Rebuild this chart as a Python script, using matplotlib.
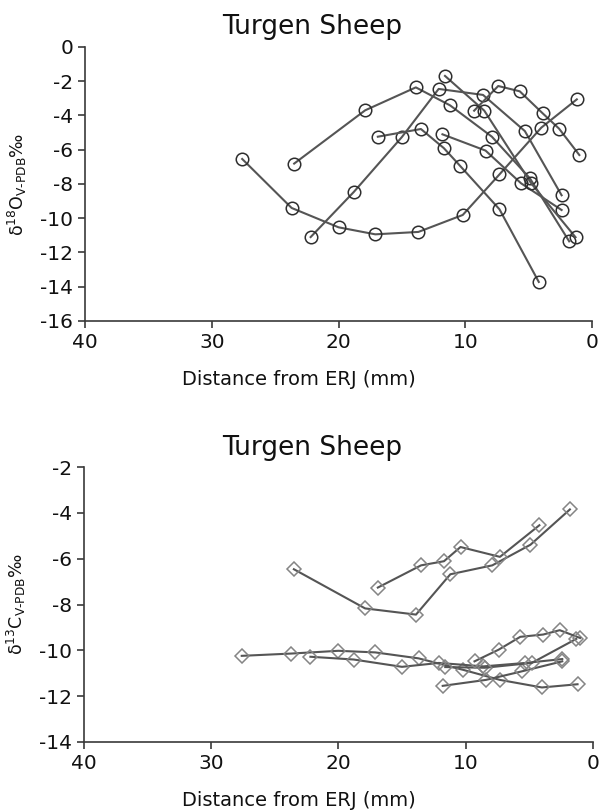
import matplotlib
matplotlib.use("Agg")
import matplotlib.pyplot as plt

# distance from ERJ (mm), d18O and d13C per sheep
SHEEP_A_DIST = [27.6, 23.7, 20.0, 17.1, 13.7, 10.2, 7.3, 4.0, 1.2]
SHEEP_A_O18 = [-6.54, -9.40, -10.53, -10.94, -10.80, -9.81, -7.44, -4.71, -3.06]
SHEEP_A_C13 = [-10.24, -10.14, -10.02, -10.09, -10.35, -10.85, -11.29, -11.62, -11.48]

SHEEP_B_DIST = [23.5, 17.9, 13.9, 11.2, 7.9, 4.9, 1.8]
SHEEP_B_O18 = [-6.81, -3.70, -2.36, -3.41, -5.24, -7.67, -11.35]
SHEEP_B_C13 = [-6.46, -8.17, -8.44, -6.68, -6.29, -5.39, -3.85]

SHEEP_C_DIST = [22.2, 18.8, 15.0, 12.1, 8.6, 5.3, 2.4]
SHEEP_C_O18 = [-11.10, -8.47, -5.26, -2.45, -2.80, -4.91, -8.66]
SHEEP_C_C13 = [-10.28, -10.40, -10.72, -10.55, -10.70, -10.55, -10.38]

SHEEP_D_DIST = [16.9, 13.5, 11.7, 10.4, 7.3, 4.2]
SHEEP_D_O18 = [-5.24, -4.79, -5.90, -6.95, -9.48, -13.72]
SHEEP_D_C13 = [-7.26, -6.29, -6.11, -5.49, -5.92, -4.54]

SHEEP_E_DIST = [11.8, 8.4, 5.6, 2.4]
SHEEP_E_O18 = [-5.10, -6.05, -7.96, -9.52]
SHEEP_E_C13 = [-11.55, -11.29, -10.92, -10.48]

SHEEP_F_DIST = [11.6, 8.5, 4.8, 1.3]
SHEEP_F_O18 = [-1.69, -3.72, -7.96, -11.11]
SHEEP_F_C13 = [-10.73, -10.76, -10.55, -9.50]

SHEEP_G_DIST = [9.3, 7.4, 5.7, 3.9, 2.6, 1.0]
SHEEP_G_O18 = [-3.72, -2.28, -2.59, -3.87, -4.77, -6.31]
SHEEP_G_C13 = [-10.48, -9.97, -9.41, -9.31, -9.12, -9.46]

DISTANCES = [SHEEP_A_DIST, SHEEP_B_DIST, SHEEP_C_DIST, SHEEP_D_DIST,
             SHEEP_E_DIST, SHEEP_F_DIST, SHEEP_G_DIST]
O18_SERIES = [SHEEP_A_O18, SHEEP_B_O18, SHEEP_C_O18, SHEEP_D_O18,
              SHEEP_E_O18, SHEEP_F_O18, SHEEP_G_O18]
C13_SERIES = [SHEEP_A_C13, SHEEP_B_C13, SHEEP_C_C13, SHEEP_D_C13,
              SHEEP_E_C13, SHEEP_F_C13, SHEEP_G_C13]

X_TICKS = [40, 30, 20, 10, 0]
O18_TICKS = list(range(-16, 1, 2))
C13_TICKS = list(range(-14, -1, 2))

LINE_INK = "#555555"
CIRCLE_INK = "#2e2e2e"
DIAMOND_INK = "#858585"
AXIS_INK = "#3a3a3a"
TEXT_INK = "#111111"

plt.rcParams["font.family"] = ["DejaVu Sans"]
plt.rcParams["mathtext.fontset"] = "dejavusans"
plt.rcParams["axes.unicode_minus"] = False


def style_axes(ax, yticks, ylabel):
    ax.set_xlim(40, 0)
    ax.set_xticks(X_TICKS)
    ax.set_ylim(yticks[0], yticks[-1])
    ax.set_yticks(yticks)
    for spine in ("top", "right"):
        ax.spines[spine].set_visible(False)
    for spine in ("left", "bottom"):
        ax.spines[spine].set_color(AXIS_INK)
        ax.spines[spine].set_linewidth(1.2)
    ax.tick_params(direction="out", length=5, width=1.2, colors=AXIS_INK,
                   labelsize=14.5, labelcolor=TEXT_INK)
    # title and x label sit centred on the figure, not on the axes
    ax.set_title("Turgen Sheep", fontsize=19, color=TEXT_INK, pad=9, x=0.448)
    ax.set_xlabel("Distance from ERJ (mm)", fontsize=14, color=TEXT_INK)
    ax.xaxis.set_label_coords(0.422, -0.18)
    ax.set_ylabel(ylabel, fontsize=12.5, color=TEXT_INK)
    ax.yaxis.set_label_coords(-0.11, 0.5)


fig = plt.figure(figsize=(6.0, 8.11), dpi=100)
ax_o = fig.add_axes([0.1417, 0.6042, 0.845, 0.3379])
ax_c = fig.add_axes([0.140, 0.0851, 0.848, 0.339])

for dist, vals in zip(DISTANCES, O18_SERIES):
    ax_o.plot(dist, vals, color=LINE_INK, linewidth=1.5, marker="o", markersize=9,
              markerfacecolor="none", markeredgecolor=CIRCLE_INK, markeredgewidth=1.1)

for dist, vals in zip(DISTANCES, C13_SERIES):
    ax_c.plot(dist, vals, color=LINE_INK, linewidth=1.5, marker="D", markersize=7.5,
              markerfacecolor="none", markeredgecolor=DIAMOND_INK, markeredgewidth=1.1)

style_axes(ax_o, O18_TICKS, "δ$^{18}$O$_{\\text{V-PDB}}$‰")
style_axes(ax_c, C13_TICKS, "δ$^{13}$C$_{\\text{V-PDB}}$‰")

fig.savefig("out.png", dpi=100, facecolor="white")
